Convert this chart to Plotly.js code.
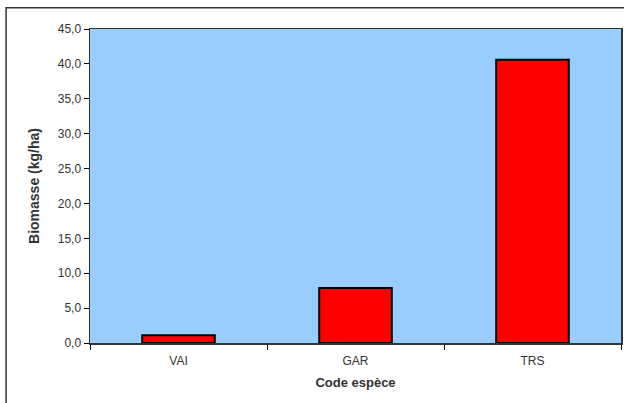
<!DOCTYPE html>
<html><head><meta charset="utf-8">
<script src="https://cdn.plot.ly/plotly-3.0.1.min.js"></script>
<style>html,body{margin:0;padding:0;background:#fff;}#c{width:624px;height:403px;}</style>
</head><body><div id="c"></div>
<script>
const categories = ["VAI", "GAR", "TRS"];
const biomasse = [1.1, 7.9, 40.6];
const yTicks = [0, 5, 10, 15, 20, 25, 30, 35, 40, 45];

const trace = {
  type: 'bar', x: categories, y: biomasse,
  marker: {color: '#FF0000', line: {color: '#000000', width: 2}},
  hoverinfo: 'none'
};
const layout = {
  width: 624, height: 403,
  margin: {l: 90, r: 3, t: 29, b: 60},
  paper_bgcolor: '#ffffff', plot_bgcolor: '#99CCFF',
  separators: ', ',
  bargap: 0.59,
  showlegend: false,
  font: {family: 'Arial, Liberation Sans, sans-serif', size: 12, color: '#333333'},
  xaxis: {
    type: 'category', tickson: 'boundaries', ticks: 'outside', ticklen: 5, tickcolor: '#000',
    ticklabelstandoff: 6,
    showline: true, linecolor: '#333', linewidth: 1.5, mirror: true,
    showgrid: false, zeroline: false,
    tickfont: {size: 12, color: '#333'},
    title: {text: '<b>Code espèce</b>', font: {size: 13, color: '#333'}, standoff: 11}
  },
  yaxis: {
    range: [0, 45], tickvals: yTicks, tickformat: '.1f',
    ticks: 'outside', ticklen: 5, tickcolor: '#000',
    showline: true, linecolor: '#333', linewidth: 1.5, mirror: true,
    showgrid: false, zeroline: false,
    tickfont: {size: 12, color: '#333'},
    title: {text: '<b>Biomasse (kg/ha)</b>', font: {size: 14, color: '#333'}, standoff: 15}
  },
  shapes: [{
    type: 'rect', xref: 'paper', yref: 'paper',
    x0: -0.158, x1: 1.06, y0: -0.2, y1: 1.068,
    line: {color: '#333', width: 1.5}, fillcolor: 'rgba(0,0,0,0)', layer: 'below'
  }]
};
Plotly.newPlot('c', [trace], layout, {staticPlot: true, displayModeBar: false});
</script></body></html>
